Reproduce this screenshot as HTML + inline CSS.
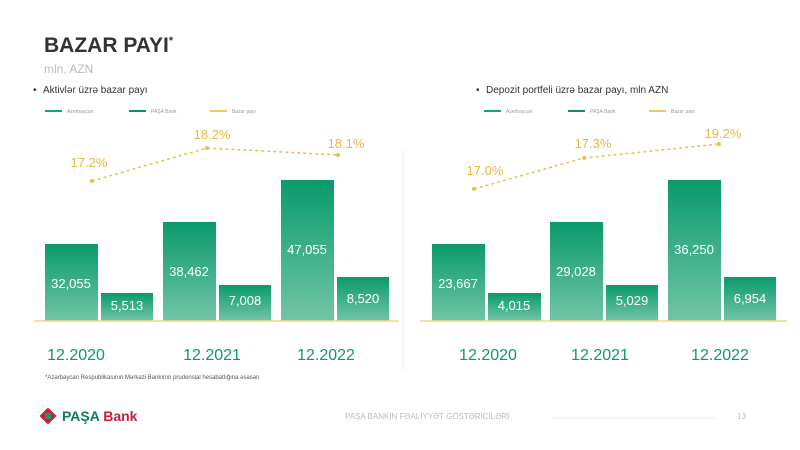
<!DOCTYPE html>
<html><head><meta charset="utf-8"><style>
body{margin:0;width:800px;height:450px;background:#fff;overflow:hidden;font-family:"Liberation Sans",sans-serif;}
svg{display:block}
</style></head><body>
<svg width="800" height="450" xmlns="http://www.w3.org/2000/svg" font-family="Liberation Sans, sans-serif">
<defs><linearGradient id="g" x1="0" y1="0" x2="0" y2="1"><stop offset="0" stop-color="#0a9a6c"/><stop offset="1" stop-color="#72c5a6"/></linearGradient></defs>
<text x="44" y="52" font-size="21" font-weight="bold" fill="#333">BAZAR PAYI<tspan font-size="11" dy="-8">*</tspan></text>
<text x="44" y="73" font-size="12" fill="#bbb">mln, AZN</text>
<text x="33" y="93" font-size="10" fill="#333">•</text>
<text x="43" y="93" font-size="10" fill="#333">Aktivlər üzrə bazar payı</text>
<text x="476" y="93" font-size="10" fill="#333">•</text>
<text x="486" y="93" font-size="10" fill="#333">Depozit portfeli üzrə bazar payı, mln AZN</text>
<g font-size="5" fill="#999">
<rect x="45" y="110" width="17" height="2" fill="#12a57a"/><text x="67" y="113">Azerbaycan</text>
<rect x="129" y="110" width="17" height="2" fill="#0c8e68"/><text x="151" y="113">PAŞA Bank</text>
<rect x="210" y="110" width="17" height="2" fill="#f0c85a"/><text x="232" y="113">Bazar payı</text>
<rect x="484" y="110" width="17" height="2" fill="#12a57a"/><text x="506" y="113">Azerbaycan</text>
<rect x="568" y="110" width="17" height="2" fill="#0c8e68"/><text x="590" y="113">PAŞA Bank</text>
<rect x="649" y="110" width="17" height="2" fill="#f0c85a"/><text x="671" y="113">Bazar payı</text>
</g>
<line x1="403" y1="150" x2="403" y2="370" stroke="#eee"/>
<g fill="url(#g)">
<rect x="45" y="244" width="53" height="77"/><rect x="101" y="293" width="52" height="28"/>
<rect x="163" y="222" width="53" height="99"/><rect x="219" y="285" width="52" height="36"/>
<rect x="281" y="180" width="53" height="141"/><rect x="337" y="277" width="52" height="44"/>
<rect x="432" y="244" width="53" height="77"/><rect x="488" y="293" width="53" height="28"/>
<rect x="550" y="222" width="53" height="99"/><rect x="606" y="285" width="52" height="36"/>
<rect x="668" y="180" width="53" height="141"/><rect x="724" y="277" width="52" height="44"/>
</g>
<line x1="34" y1="321" x2="399" y2="321" stroke="#f0d890" stroke-width="1.5"/>
<line x1="420" y1="321" x2="787" y2="321" stroke="#f0d890" stroke-width="1.5"/>
<g font-size="13" fill="#fff" text-anchor="middle">
<text x="71" y="288">32,055</text><text x="127" y="310">5,513</text>
<text x="189" y="276">38,462</text><text x="245" y="305">7,008</text>
<text x="307" y="254">47,055</text><text x="363" y="303">8,520</text>
<text x="458" y="288">23,667</text><text x="514" y="310">4,015</text>
<text x="576" y="276">29,028</text><text x="632" y="305">5,029</text>
<text x="694" y="254">36,250</text><text x="750" y="303">6,954</text>
</g>
<g fill="none" stroke="#e8c050" stroke-width="1.5" stroke-dasharray="3,3">
<polyline points="92,181 207,148 338,155"/><polyline points="474,189 584,158 719,144"/>
</g>
<g fill="#e8c050"><circle cx="92" cy="181" r="2"/><circle cx="207" cy="148" r="2"/><circle cx="338" cy="155" r="2"/>
<circle cx="474" cy="189" r="2"/><circle cx="584" cy="158" r="2"/><circle cx="719" cy="144" r="2"/></g>
<g font-size="13" fill="#e8b840" text-anchor="middle">
<text x="89" y="167">17.2%</text><text x="212" y="139">18.2%</text><text x="346" y="148">18.1%</text>
<text x="485" y="175">17.0%</text><text x="593" y="148">17.3%</text><text x="723" y="138">19.2%</text>
</g>
<g font-size="16" fill="#0a9a6a" text-anchor="middle">
<text x="76" y="360">12.2020</text><text x="212" y="360">12.2021</text><text x="326" y="360">12.2022</text>
<text x="488" y="360">12.2020</text><text x="600" y="360">12.2021</text><text x="720" y="360">12.2022</text>
</g>
<text x="45" y="379" font-size="6" fill="#555">*Azərbaycan Respublikasının Mərkəzi Bankının prudensial hesabatlığına əsasən</text>
<g transform="translate(48,416)"><rect x="-6" y="-6" width="12" height="12" fill="#c8203a" transform="rotate(45)"/><rect x="-3" y="-3" width="6" height="6" fill="#1a9a6a"/></g>
<text x="62" y="421" font-size="14" font-weight="bold" fill="#0c7e5a">PAŞA <tspan fill="#c8203a">Bank</tspan></text>
<text x="345" y="419" font-size="8" fill="#bbb">PAŞA BANKIN FƏALİYYƏT GÖSTƏRİCİLƏRİ</text>
<line x1="552" y1="418" x2="718" y2="418" stroke="#eee"/>
<text x="737" y="419" font-size="8" fill="#bbb">13</text>
</svg>
</body></html>
